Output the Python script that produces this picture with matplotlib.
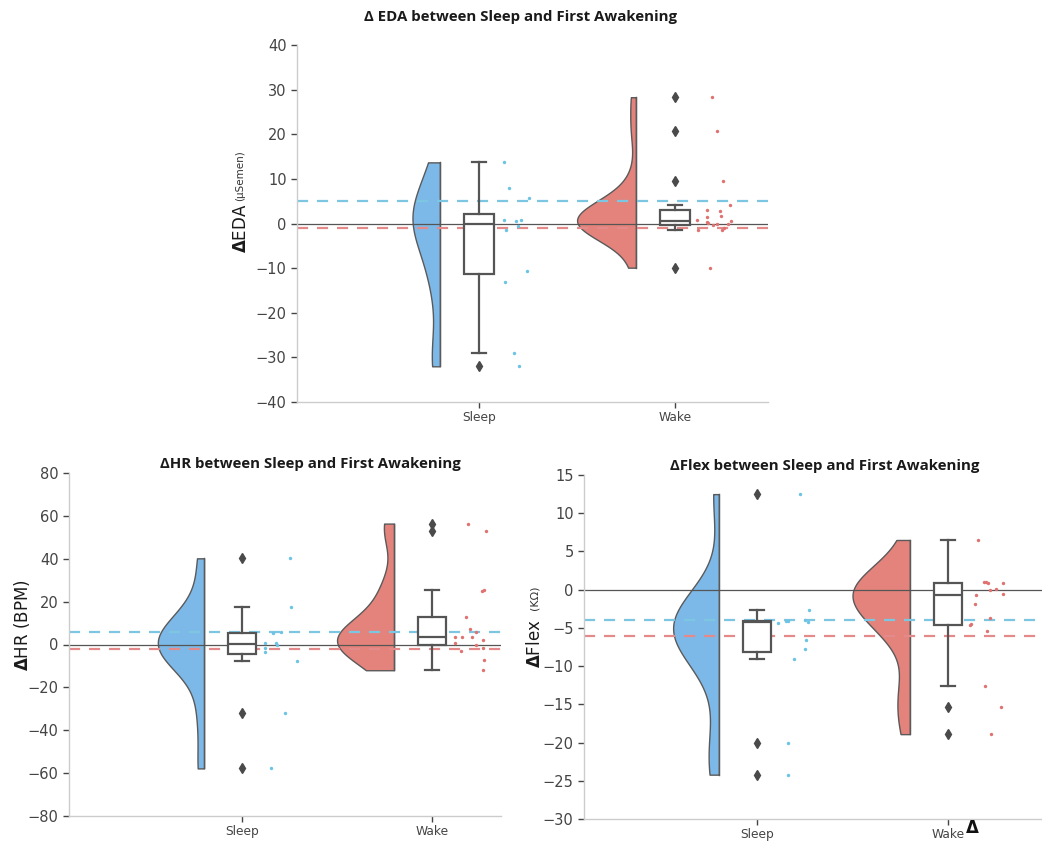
import numpy as np
import matplotlib
matplotlib.use("Agg")
import matplotlib.pyplot as plt

# ---------------- data ----------------
groups = ["Sleep", "Wake"]

eda_sleep = [13.7, 7.9, 5.7, 0.8, 0.7, 0.45, -0.6, -1.4, -10.6, -13.2, -29.1, -32.0]
eda_wake = [28.3, 20.8, 9.6, 4.2, 3.1, 2.9, 1.7, 1.5, 0.8, 0.5, 0.3, 0.1, 0.0,
            -0.2, -0.4, -1.0, -1.4, -1.5, -9.9]
eda_ref = [5.0, -1.0]          # blue / red dashed reference lines

hr_sleep = [40.2, 17.7, 5.8, 5.2, 0.5, 0.5, -0.3, -1.4, -3.7, -7.5, -31.8, -57.8]
hr_wake = [56.4, 52.8, 25.6, 25.0, 12.9, 7.1, 5.7, 3.6, 3.6, 3.6, 2.0, 0.5,
           -0.3, -1.4, -3.1, -7.0, -12.0]
hr_ref = [6.0, -2.0]

flex_sleep = [12.5, -2.7, -4.0, -4.1, -4.1, -4.2, -4.3, -6.6, -7.8, -9.1, -20.1, -24.2]
flex_wake = [6.5, 1.0, 0.95, 0.9, 0.85, 0.1, 0.0, -0.6, -0.65, -1.9, -3.7, -4.5,
             -4.6, -5.4, -12.6, -15.3, -18.9]
flex_ref = [-4.0, -6.0]

eda_yticks = [-40, -30, -20, -10, 0, 10, 20, 30, 40]
hr_yticks = [-80, -60, -40, -20, 0, 20, 40, 60, 80]
flex_yticks = [-30, -25, -20, -15, -10, -5, 0, 5, 10, 15]

# ---------------- style ----------------
VIOLIN_COLORS = ["#7db9e8", "#e4837b"]
DOT_COLORS = ["#6cc3e3", "#e07272"]
REF_COLORS = ["#7cc6e2", "#e48a8a"]
BOX_EDGE = "#555555"
SPINE = "#cccccc"
TXT = "#333333"

W, H = 1042, 841
fig = plt.figure(figsize=(W / 100, H / 100), dpi=100)
fig.patch.set_facecolor("white")


def px_axes(x0, x1, ytop, ybot):
    return fig.add_axes([x0 / W, 1 - ybot / H, (x1 - x0) / W, (ybot - ytop) / H])


def kde(vals, grid, bw_factor):
    v = np.asarray(vals, float)
    h = bw_factor * v.std(ddof=1)
    z = (grid[:, None] - v[None, :]) / h
    return np.exp(-0.5 * z ** 2).sum(axis=1) / (len(v) * h * np.sqrt(2 * np.pi))


def raincloud(ax, data, ref, yticks, xlim, bw=0.5, seed=0):
    rng = np.random.default_rng(seed)
    grids, dens = [], []
    for d in data:
        g = np.linspace(min(d), max(d), 300)
        grids.append(g)
        dens.append(kde(d, g, bw))
    scale = 0.30 / max(dd.max() for dd in dens)
    edge_off = -0.20
    for i, (g, dd) in enumerate(zip(grids, dens)):
        xr = i + edge_off
        ax.fill_betweenx(g, xr - dd * scale, xr, facecolor=VIOLIN_COLORS[i],
                         edgecolor="#5a5a5a", linewidth=1.0, zorder=1)
        ax.plot([xr, xr], [g[0], g[-1]], color="#5a5a5a", lw=1.0, zorder=1)
    ax.axhline(0, color="#555555", lw=0.9, zorder=2)
    ax.axhline(ref[0], color=REF_COLORS[0], lw=1.6, ls=(0, (5, 4)), zorder=2)
    ax.axhline(ref[1], color=REF_COLORS[1], lw=1.6, ls=(0, (5, 4)), zorder=2)
    ax.boxplot(data, positions=[0, 1], widths=0.15, patch_artist=True,
               boxprops=dict(facecolor="white", edgecolor=BOX_EDGE, linewidth=1.6),
               medianprops=dict(color=BOX_EDGE, linewidth=1.6),
               whiskerprops=dict(color=BOX_EDGE, linewidth=1.6),
               capprops=dict(color=BOX_EDGE, linewidth=1.6),
               flierprops=dict(marker="d", markerfacecolor="#4a4a4a",
                               markeredgecolor="#4a4a4a", markersize=5),
               zorder=3)
    for i, d in enumerate(data):
        jit = rng.uniform(0.11, 0.29, len(d))
        ax.scatter(i + jit, d, s=6, color=DOT_COLORS[i], zorder=4, linewidths=0)
    ax.set_xlim(*xlim)
    ax.set_ylim(yticks[0], yticks[-1])
    ax.set_yticks(yticks)
    ax.set_yticklabels([f"{t:g}".replace("-", "\u2212") for t in yticks],
                       fontsize=10.5, color=TXT)
    ax.set_xticks([0, 1])
    ax.set_xticklabels(groups, fontsize=8.8, color=TXT)
    for s in ("top", "right"):
        ax.spines[s].set_visible(False)
    for s in ("left", "bottom"):
        ax.spines[s].set_color(SPINE)
        ax.spines[s].set_linewidth(1.0)
    ax.tick_params(axis="both", colors="#444444", length=4, width=1)
    ax.tick_params(axis="x", pad=2.5)


TITLE_FONT = dict(fontsize=10.8, fontweight="bold", color="#1a1a1a",
                  family=["Open Sans", "DejaVu Sans"])

# ---- top panel: EDA
ax1 = px_axes(297, 768, 45, 402)
raincloud(ax1, [eda_sleep, eda_wake], eda_ref, eda_yticks, (-0.929, 1.474), seed=3)
fig.text(520 / W, 1 - 17 / H, "\u0394 EDA between Sleep and First Awakening",
         ha="center", va="center", **TITLE_FONT)
fig.text(241 / W, 1 - 228 / H, r"$\mathbf{\Delta}$EDA", rotation=90, ha="center",
         va="center", fontsize=12, color="#1a1a1a")
fig.text(240 / W, 1 - 176 / H, "(\u03bcSemen)", rotation=90, ha="center", va="center",
         fontsize=7.5, color=TXT)

# ---- bottom-left: HR
ax2 = px_axes(69, 501, 473, 816)
raincloud(ax2, [hr_sleep, hr_wake], hr_ref, hr_yticks, (-0.911, 1.363), seed=5)
fig.text(310 / W, 1 - 464 / H, "\u0394HR between Sleep and First Awakening",
         ha="center", va="center", **TITLE_FONT)
fig.text(22 / W, 1 - 625 / H, r"$\mathbf{\Delta}$HR (BPM)", rotation=90, ha="center",
         va="center", fontsize=12, color="#1a1a1a")

# ---- bottom-right: Flex
ax3 = px_axes(584, 1042, 475, 819)
raincloud(ax3, [flex_sleep, flex_wake], flex_ref, flex_yticks, (-0.906, 1.492), seed=7)
fig.text(825 / W, 1 - 466 / H, "\u0394Flex between Sleep and First Awakening",
         ha="center", va="center", **TITLE_FONT)
fig.text(535 / W, 1 - 644 / H, r"$\mathbf{\Delta}$Flex", rotation=90, ha="center",
         va="center", fontsize=12, color="#1a1a1a")
fig.text(535 / W, 1 - 598 / H, "(K\u03a9)", rotation=90, ha="center", va="center",
         fontsize=8, color=TXT)
fig.text(972 / W, 1 - 828 / H, "\u0394", ha="center", va="center",
         fontsize=12, fontweight="bold", color="#111111")

fig.savefig("out.png", dpi=100, facecolor="white")
